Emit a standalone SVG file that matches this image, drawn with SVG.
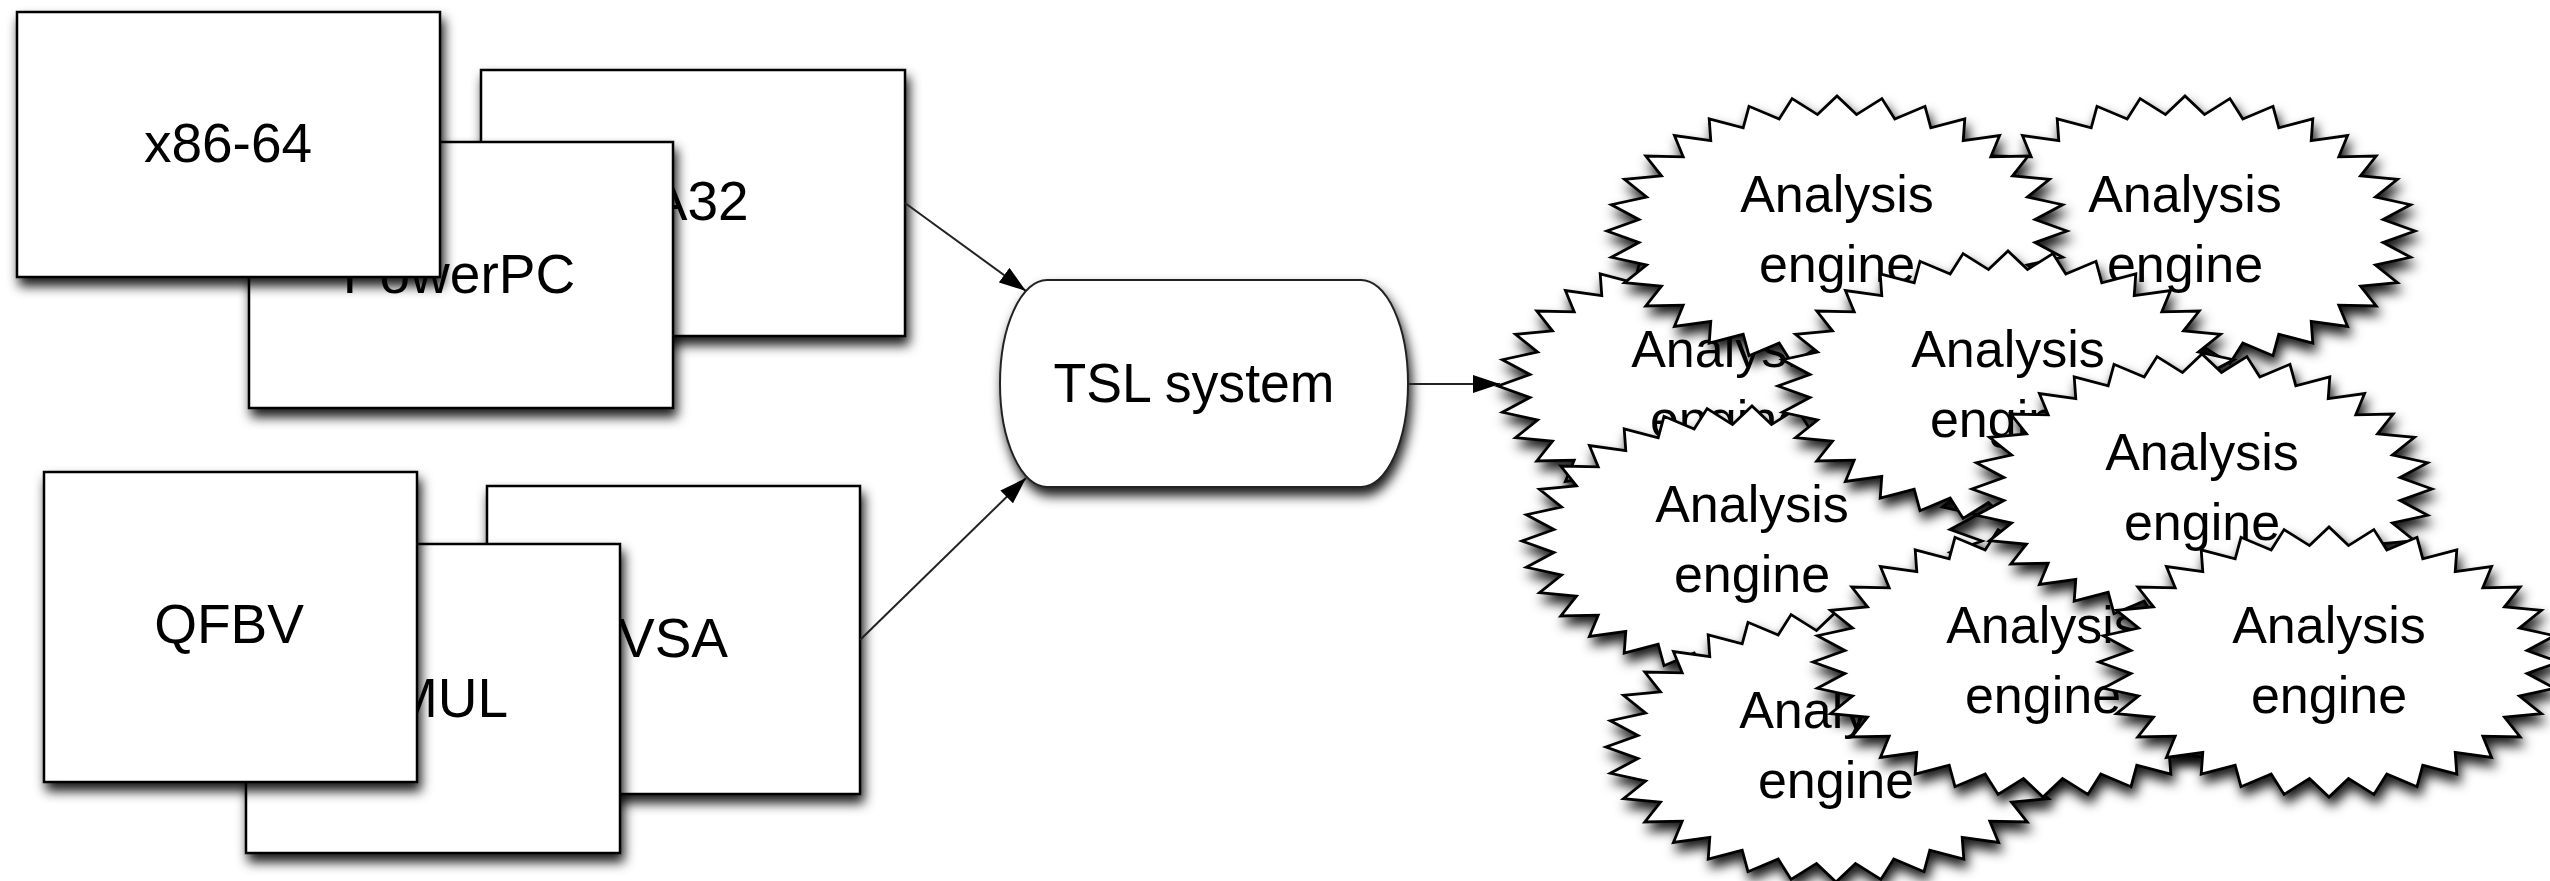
<svg xmlns="http://www.w3.org/2000/svg" xmlns:xlink="http://www.w3.org/1999/xlink" width="2550" height="881" viewBox="0 0 2550 881">
  <style>
    .box { fill: #fff; stroke: #000; stroke-width: 2.5; filter: url(#shadow); }
    .term { fill: #fff; stroke: #222; stroke-width: 2; filter: url(#shadow); }
    .burst { fill: #fff; stroke: #000; stroke-width: 2.8; stroke-linejoin: miter; filter: url(#shadow); }
    .lbl { font-family: "Liberation Sans", Arial, sans-serif; font-size: 55px; fill: #000; text-anchor: middle; }
    .eng { font-family: "Liberation Sans", Arial, sans-serif; font-size: 52px; fill: #000; text-anchor: middle; }
    .edge { fill: none; stroke: #222; stroke-width: 2; }
  </style>
  <defs>
    <filter id="shadow" x="-10%" y="-10%" width="125%" height="130%">
      <feDropShadow dx="3" dy="8" stdDeviation="6" flood-color="#000" flood-opacity="0.9"/>
    </filter>
    <marker id="arrow" viewBox="0 0 27 18" refX="27" refY="9" markerWidth="27" markerHeight="18" markerUnits="userSpaceOnUse" orient="auto">
      <path d="M0,0 L27,9 L0,18 z" fill="#000"/>
    </marker>
    <!-- 32-point elliptical starburst centred on the origin -->
    <path id="star" d="M230,0 L198,-11.5 L225.6,-26.3 L190.4,-34 L212.5,-51.7 L175.5,-55.2 L191.2,-75 L153.8,-74.2 L162.6,-95.5 L126.2,-90.4 L127.8,-112.2 L93.8,-103.2 L88,-124.7 L57.8,-112 L44.9,-132.4 L19.5,-116.4 L0,-135 L-19.5,-116.4 L-44.9,-132.4 L-57.8,-112 L-88,-124.7 L-93.8,-103.2 L-127.8,-112.2 L-126.2,-90.4 L-162.6,-95.5 L-153.8,-74.2 L-191.2,-75 L-175.5,-55.2 L-212.5,-51.7 L-190.4,-34 L-225.6,-26.3 L-198,-11.5 L-230,0 L-198,11.5 L-225.6,26.3 L-190.4,34 L-212.5,51.7 L-175.5,55.2 L-191.2,75 L-153.8,74.2 L-162.6,95.5 L-126.2,90.4 L-127.8,112.2 L-93.8,103.2 L-88,124.7 L-57.8,112 L-44.9,132.4 L-19.5,116.4 L0,135 L19.5,116.4 L44.9,132.4 L57.8,112 L88,124.7 L93.8,103.2 L127.8,112.2 L126.2,90.4 L162.6,95.5 L153.8,74.2 L191.2,75 L175.5,55.2 L212.5,51.7 L190.4,34 L225.6,26.3 L198,11.5 Z"/>
  </defs>

  <rect width="2550" height="881" fill="#fff"/>

  <!-- instruction-set boxes -->
  <g id="node-ia32">
    <rect class="box" x="481" y="70" width="424" height="266"/>
    <text class="lbl" x="692" y="220">IA32</text>
  </g>
  <g id="node-powerpc">
    <rect class="box" x="249" y="142" width="424" height="266"/>
    <text class="lbl" x="459" y="293">PowerPC</text>
  </g>
  <g id="node-x86-64">
    <rect class="box" x="17" y="12" width="423" height="265"/>
    <text class="lbl" x="228" y="162">x86-64</text>
  </g>

  <!-- analysis boxes -->
  <g id="node-vsa">
    <rect class="box" x="487" y="486" width="373" height="308"/>
    <text class="lbl" x="673" y="657">VSA</text>
  </g>
  <g id="node-mul">
    <rect class="box" x="246" y="544" width="374" height="309"/>
    <text class="lbl" x="450" y="717">MUL</text>
  </g>
  <g id="node-qfbv">
    <rect class="box" x="44" y="472" width="373" height="310"/>
    <text class="lbl" x="229" y="643">QFBV</text>
  </g>

  <!-- central system -->
  <g id="node-tsl">
    <rect class="term" x="1000" y="280" width="408" height="207" rx="47" ry="103.5"/>
    <text class="lbl" x="1194" y="402" textLength="281" lengthAdjust="spacingAndGlyphs" fill="#111">TSL system</text>
  </g>

  <!-- generated analysis engines, back to front -->
  <g id="engine-2">
    <use class="burst" href="#star" x="2185" y="231"/>
    <text class="eng" x="2185" y="212">Analysis</text>
    <text class="eng" x="2185" y="282">engine</text>
  </g>
  <g id="engine-3">
    <use class="burst" href="#star" x="1728" y="386"/>
    <text class="eng" x="1728" y="367">Analysis</text>
    <text class="eng" x="1728" y="437">engine</text>
  </g>
  <g id="engine-1">
    <use class="burst" href="#star" x="1837" y="231"/>
    <text class="eng" x="1837" y="212">Analysis</text>
    <text class="eng" x="1837" y="282">engine</text>
  </g>
  <g id="engine-5">
    <use class="burst" href="#star" x="1752" y="541"/>
    <text class="eng" x="1752" y="522">Analysis</text>
    <text class="eng" x="1752" y="592">engine</text>
  </g>
  <g id="engine-7">
    <use class="burst" href="#star" x="1836" y="747"/>
    <text class="eng" x="1836" y="728">Analysis</text>
    <text class="eng" x="1836" y="798">engine</text>
  </g>
  <g id="engine-4">
    <use class="burst" href="#star" x="2008" y="386"/>
    <text class="eng" x="2008" y="367">Analysis</text>
    <text class="eng" x="2008" y="437">engine</text>
  </g>
  <g id="engine-9">
    <use class="burst" href="#star" x="2043" y="662"/>
    <text class="eng" x="2043" y="643">Analysis</text>
    <text class="eng" x="2043" y="713">engine</text>
  </g>
  <g id="engine-6">
    <use class="burst" href="#star" x="2202" y="489"/>
    <text class="eng" x="2202" y="470">Analysis</text>
    <text class="eng" x="2202" y="540">engine</text>
  </g>
  <g id="engine-8">
    <use class="burst" href="#star" x="2329" y="662"/>
    <text class="eng" x="2329" y="643">Analysis</text>
    <text class="eng" x="2329" y="713">engine</text>
  </g>

  <!-- connectors -->
  <g id="connectors">
    <path class="edge" d="M905,203 L1026,291" marker-end="url(#arrow)"/>
    <path class="edge" d="M860,640 L1026,478" marker-end="url(#arrow)"/>
    <path class="edge" d="M1408,384 L1500,384" marker-end="url(#arrow)"/>
  </g>
</svg>
